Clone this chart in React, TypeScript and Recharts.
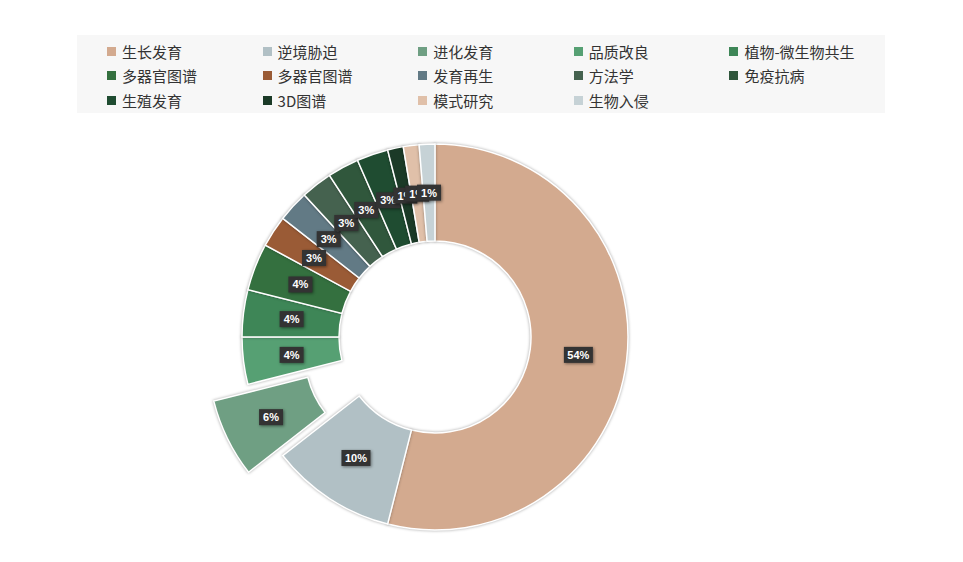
import React from 'react';
import { PieChart, Pie, Cell } from 'recharts';

const categories = [
  '生长发育',
  '逆境胁迫',
  '进化发育',
  '品质改良',
  '植物-微生物共生',
  '多器官图谱',
  '多器官图谱',
  '发育再生',
  '方法学',
  '免疫抗病',
  '生殖发育',
  '3D图谱',
  '模式研究',
  '生物入侵',
];

const counts = [41, 8, 5, 3, 3, 3, 2, 2, 2, 2, 2, 1, 1, 1];

const colors = [
  '#d3aa8f',
  '#b1c0c5',
  '#6f9f83',
  '#56a073',
  '#3e8657',
  '#34703f',
  '#9a5b36',
  '#627a85',
  '#45624f',
  '#30573c',
  '#1f4c31',
  '#1b3a27',
  '#e0c0a9',
  '#c6d2d6',
];

const explodedIndex = 2;

const CX = 435;
const CY = 337;
const INNER = 96;
const OUTER = 193;
const EXPLODE = 38;
const RAD = Math.PI / 180;

// largest-remainder rounding so labels add up to 100
function roundedPercents(values: number[]) {
  const total = values.reduce((a, b) => a + b, 0);
  const raw = values.map((v) => (v / total) * 100);
  const out = raw.map(Math.floor);
  let left = 100 - out.reduce((a, b) => a + b, 0);
  const order = raw
    .map((r, i) => ({ i, rem: r - out[i] }))
    .sort((a, b) => b.rem - a.rem);
  for (const o of order) {
    if (left <= 0) break;
    out[o.i] += 1;
    left -= 1;
  }
  return out;
}

const percents = roundedPercents(counts);

const data = categories.map((name, i) => ({
  name,
  value: counts[i],
  pct: percents[i],
}));

// offset of the pulled-out slice, along its middle angle (clockwise from top)
const total = counts.reduce((a, b) => a + b, 0);
const before = counts.slice(0, explodedIndex).reduce((a, b) => a + b, 0);
const midTurn = ((before + counts[explodedIndex] / 2) / total) * 360;
const offX = Math.sin(midTurn * RAD) * EXPLODE;
const offY = -Math.cos(midTurn * RAD) * EXPLODE;

const sliceShadow = { filter: 'drop-shadow(0px 0px 1.5px rgba(0,0,0,0.35))' };

function makeLabel(show: (i: number) => boolean) {
  return (props: any) => {
    const { cx, cy, midAngle, innerRadius, outerRadius, index } = props;
    if (!show(index)) return null;
    const r = (innerRadius + outerRadius) / 2;
    const x = cx + r * Math.cos(-midAngle * RAD);
    const y = cy + r * Math.sin(-midAngle * RAD);
    const text = `${percents[index]}%`;
    const w = text.length * 5 + 14;
    return (
      <g key={`lbl-${index}`}>
        <rect
          x={x - w / 2}
          y={y - 8}
          width={w}
          height={16}
          fill="#333"
          style={{ filter: 'drop-shadow(1px 1px 1.5px rgba(0,0,0,0.45))' }}
        />
        <text
          x={x}
          y={y}
          fill="#fff"
          fontSize={11}
          fontWeight="bold"
          fontFamily="'Liberation Sans', Arial, sans-serif"
          textAnchor="middle"
          dominantBaseline="central"
        >
          {text}
        </text>
      </g>
    );
  };
}

function LegendBox() {
  return (
    <div
      style={{
        position: 'absolute',
        left: 77,
        top: 35,
        width: 808,
        height: 78,
        background: '#f7f7f7',
        fontFamily: "'Noto Sans CJK SC', 'Noto Sans', sans-serif",
        fontSize: 15,
        color: '#333',
      }}
    >
      {categories.map((name, i) => {
        const col = i % 5;
        const row = Math.floor(i / 5);
        return (
          <div
            key={i}
            style={{
              position: 'absolute',
              left: 30 + col * 155.6,
              top: 16 + row * 24.5 - 10,
              height: 20,
              display: 'flex',
              alignItems: 'center',
              whiteSpace: 'nowrap',
            }}
          >
            <span
              style={{
                display: 'inline-block',
                width: 9,
                height: 9,
                background: colors[i],
                marginRight: 6,
              }}
            />
            <span>{name}</span>
          </div>
        );
      })}
    </div>
  );
}

export default function App() {
  return (
    <div
      style={{
        position: 'absolute',
        left: 0,
        top: 0,
        width: 963,
        height: 562,
        background: '#fff',
      }}
    >
      <PieChart width={963} height={562} margin={{ top: 0, right: 0, bottom: 0, left: 0 }}>
        <Pie
          data={data}
          dataKey="value"
          nameKey="name"
          cx={CX}
          cy={CY}
          innerRadius={INNER}
          outerRadius={OUTER}
          startAngle={90}
          endAngle={-270}
          isAnimationActive={false}
          labelLine={false}
          label={makeLabel((i) => i !== explodedIndex)}
        >
          {data.map((d, i) => (
            <Cell
              key={`main-${i}`}
              fill={i === explodedIndex ? 'transparent' : colors[i]}
              stroke={i === explodedIndex ? 'none' : '#fff'}
              strokeWidth={1.5}
              style={i === explodedIndex ? undefined : sliceShadow}
            />
          ))}
        </Pie>
        <Pie
          data={data}
          dataKey="value"
          nameKey="name"
          cx={CX + offX}
          cy={CY + offY}
          innerRadius={INNER}
          outerRadius={OUTER}
          startAngle={90}
          endAngle={-270}
          isAnimationActive={false}
          labelLine={false}
          label={makeLabel((i) => i === explodedIndex)}
        >
          {data.map((d, i) => (
            <Cell
              key={`pulled-${i}`}
              fill={i === explodedIndex ? colors[i] : 'transparent'}
              stroke={i === explodedIndex ? '#fff' : 'none'}
              strokeWidth={1.5}
              style={i === explodedIndex ? sliceShadow : undefined}
            />
          ))}
        </Pie>
      </PieChart>
      <LegendBox />
    </div>
  );
}
